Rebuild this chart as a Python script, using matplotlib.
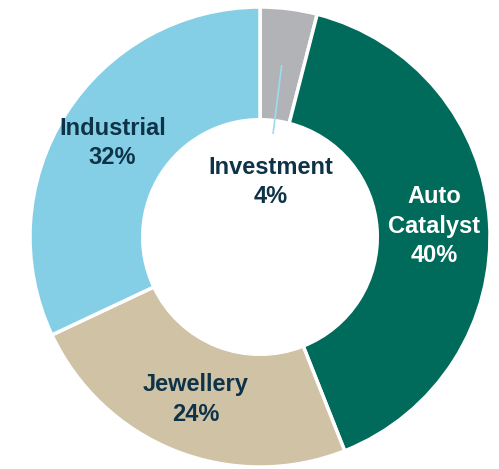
import matplotlib.pyplot as plt
import numpy as np

plt.rcParams['font.family'] = ['Liberation Sans', 'DejaVu Sans']

segments = ['Investment', 'Auto\nCatalyst', 'Jewellery', 'Industrial']
shares = [4, 40, 24, 32]
colours = ['#B1B3B6', '#006B5A', '#CFC2A5', '#85CFE6']
text_colours = ['#0E3348', 'white', '#0E3348', '#0E3348']

fig = plt.figure(figsize=(4.99, 4.69), dpi=100)
ax = fig.add_axes([30/499, 2/469, 460/499, 460/469])

wedges, _ = ax.pie(shares, colors=colours, startangle=90, counterclock=False,
                   radius=1.0, wedgeprops=dict(width=0.49, edgecolor='white', linewidth=2.5))
ax.set_xlim(-1, 1)
ax.set_ylim(-1, 1)
ax.set_aspect('equal')
ax.axis('off')

# angle of each slice middle, measured clockwise from the top
cum = np.cumsum(shares)
mids = (cum - np.array(shares) / 2) / sum(shares) * 2 * np.pi

for i, (lab, s) in enumerate(zip(segments, shares)):
    txt = lab + '\n' + str(s) + '%'
    if i == 0:
        # small slice: label in the hole with a leader line
        a = mids[0]
        ax.plot([0.75*np.sin(a), 0.455*np.sin(a)], [0.75*np.cos(a), 0.455*np.cos(a)],
                color='#9ADDF0', lw=1.2)
        x, y = 0.048, 0.238
    else:
        r = 0.76
        x, y = r*np.sin(mids[i]), r*np.cos(mids[i])
    ax.text(x, y, txt, ha='center', va='center', fontsize=17, fontweight='bold',
            color=text_colours[i], linespacing=1.35)

fig.savefig('out.png', dpi=100)
